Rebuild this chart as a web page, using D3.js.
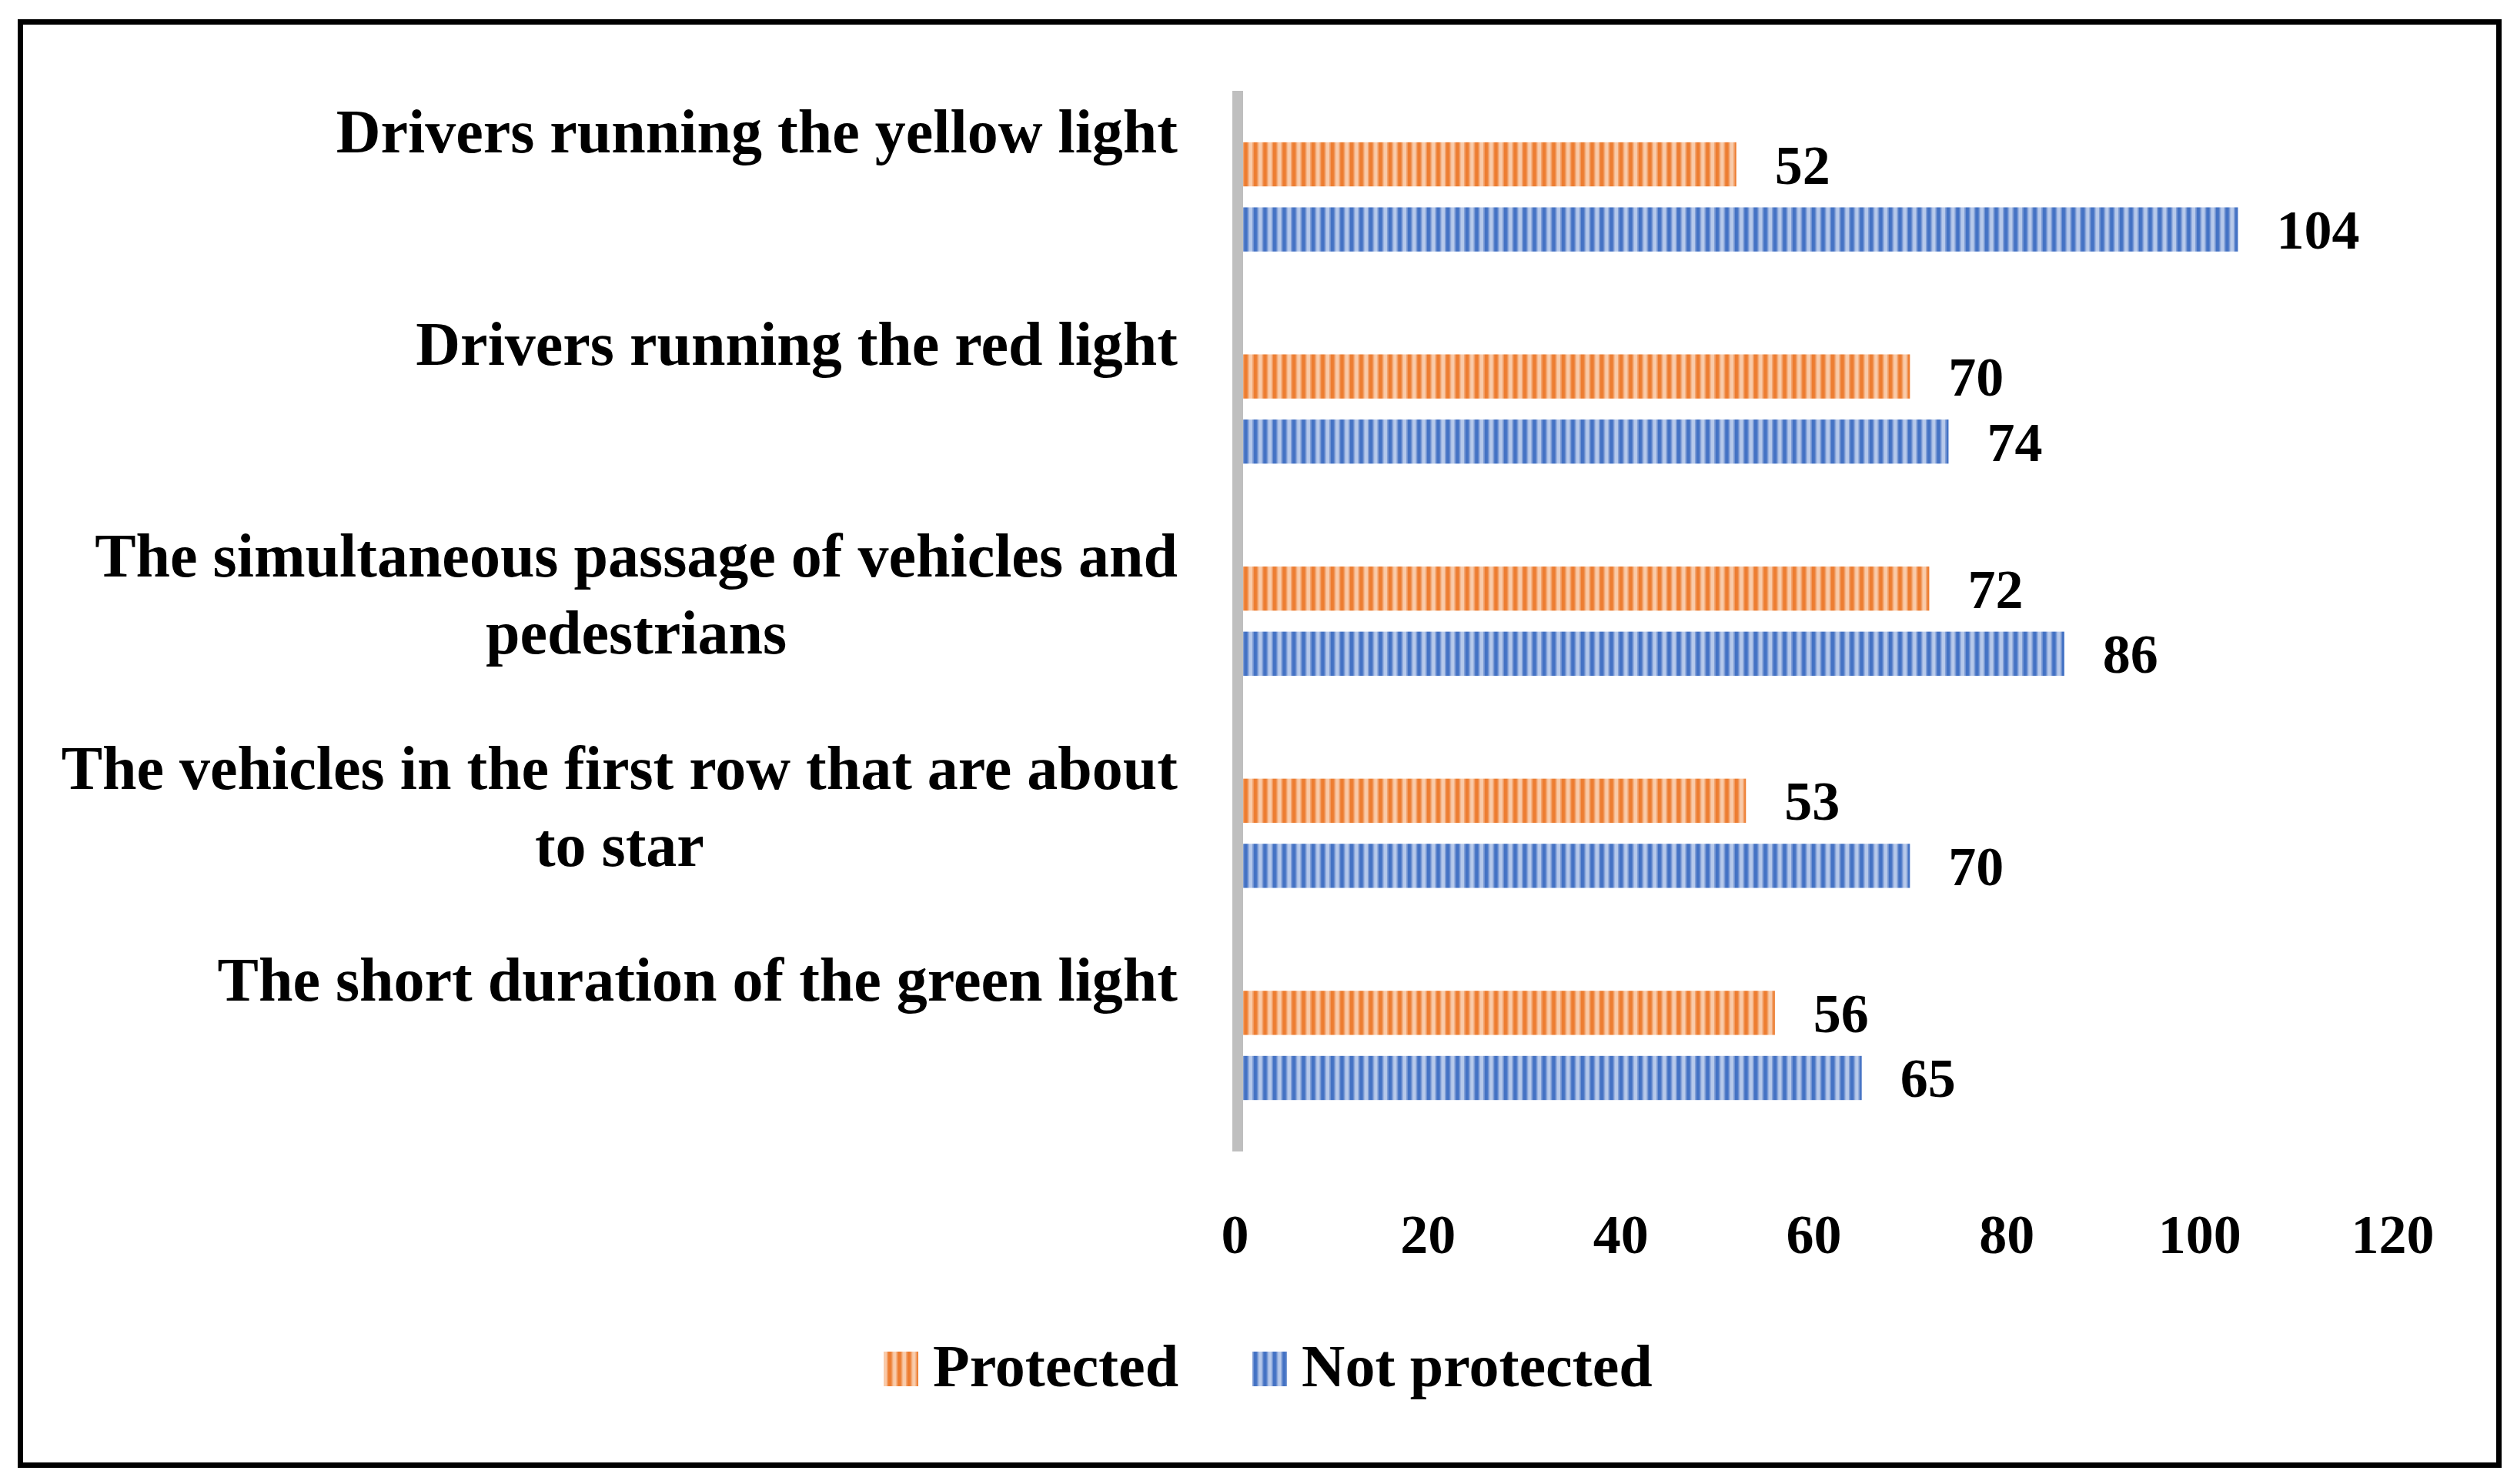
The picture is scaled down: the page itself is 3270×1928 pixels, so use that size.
<!DOCTYPE html>
<html>
<head>
<meta charset="utf-8">
<script src="https://cdn.jsdelivr.net/npm/d3@7"></script>
<style>
  html, body { margin: 0; padding: 0; background: #fff; }
  svg { display: block; }
  text { font-family: "Liberation Serif", "Times New Roman", serif; font-weight: bold; fill: #000; }
</style>
</head>
<body>
<svg id="chart" width="3270" height="1928"></svg>
<script>
// ---- data ----
const categories = [
  "Drivers running the yellow light",
  "Drivers running the red light",
  "The simultaneous passage of vehicles and\npedestrians",
  "The vehicles in the first row that are about\nto star",
  "The short duration of the green light"
];
const seriesNames = ["Protected", "Not protected"];
const protectedValues = [52, 70, 72, 53, 56];
const notProtectedValues = [104, 74, 86, 70, 65];
const xTicks = [0, 20, 40, 60, 80, 100, 120];

const seriesValues = [protectedValues, notProtectedValues];
const seriesColors = [
  { dark: "#ED7D31", mid: "#F3A46E", light: "#F9CBAA" },
  { dark: "#4472C4", mid: "#7F9DD6", light: "#B7C9EA" }
];

const svg = d3.select("#chart");
svg.append("rect").attr("width", 3270).attr("height", 1928).attr("fill", "#fff");

// patterns (wide vertical stripes)
const defs = svg.append("defs");
seriesColors.forEach((c, i) => {
  const p = defs.append("pattern")
    .attr("id", "pat" + i)
    .attr("patternUnits", "userSpaceOnUse")
    .attr("width", 12.5).attr("height", 20);
  p.append("rect").attr("width", 12.5).attr("height", 20).attr("fill", c.light);
  p.append("rect").attr("x", 2).attr("width", 1.5).attr("height", 20).attr("fill", c.mid);
  p.append("rect").attr("x", 3.5).attr("width", 5).attr("height", 20).attr("fill", c.dark);
  p.append("rect").attr("x", 8.5).attr("width", 1.5).attr("height", 20).attr("fill", c.mid);
});

// frame
svg.append("rect")
  .attr("x", 26.5).attr("y", 28.5)
  .attr("width", 3220).attr("height", 1875)
  .attr("fill", "none").attr("stroke", "#000").attr("stroke-width", 7);

// scales
const x = d3.scaleLinear().domain([0, 120]).range([1604, 3108]);
const y0 = d3.scaleBand().domain(d3.range(categories.length)).range([118, 1496]);
const y1 = d3.scaleBand().domain(d3.range(seriesNames.length))
  .range([0, y0.bandwidth()]).paddingInner(0.322).paddingOuter(0.79);

// bars
const groups = svg.append("g").selectAll("g")
  .data(categories.map((c, i) => i))
  .join("g")
  .attr("transform", i => `translate(0,${y0(i)})`);

groups.selectAll("rect")
  .data(i => seriesValues.map((vals, s) => ({ s, v: vals[i] })))
  .join("rect")
  .attr("x", x(0))
  .attr("y", d => y1(d.s))
  .attr("width", d => x(d.v) - x(0))
  .attr("height", y1.bandwidth())
  .attr("fill", d => `url(#pat${d.s})`);

// value labels
groups.selectAll("text.val")
  .data(i => seriesValues.map((vals, s) => ({ s, v: vals[i] })))
  .join("text")
  .attr("class", "val")
  .attr("x", d => x(d.v) + 50)
  .attr("y", d => y1(d.s) + y1.bandwidth() / 2 + 25)
  .attr("font-size", 72)
  .text(d => d.v);

// vertical axis line
svg.append("line")
  .attr("x1", 1608).attr("x2", 1608)
  .attr("y1", y0.range()[0]).attr("y2", y0.range()[1])
  .attr("stroke", "#BFBFBF").attr("stroke-width", 14);

// category labels (block right-aligned, lines centered)
const labelRight = 1530;
categories.forEach((c, i) => {
  const lines = c.split("\n");
  const g = svg.append("g");
  const texts = lines.map((ln, k) => g.append("text")
    .attr("y", y0(i) + 80 + k * 100)
    .attr("font-size", 80)
    .attr("text-anchor", "middle")
    .text(ln));
  const maxW = d3.max(texts, t => t.node().getComputedTextLength());
  texts.forEach(t => t.attr("x", labelRight - maxW / 2));
});

// x axis tick labels
const xAxis = d3.axisBottom(x).tickValues(xTicks).tickSize(0).tickFormat(d3.format("d"));
const ax = svg.append("g").attr("transform", "translate(0,1628)").call(xAxis);
ax.select(".domain").remove();
ax.selectAll("text")
  .attr("y", 0).attr("dy", 0)
  .attr("font-size", 72)
  .style("font-family", '"Liberation Serif", serif')
  .style("font-weight", "bold")
  .attr("fill", "#000");

// legend
const legend = svg.append("g");
let lx = 1148;
seriesNames.forEach((name, s) => {
  legend.append("rect")
    .attr("x", lx).attr("y", 1756)
    .attr("width", 45).attr("height", 45)
    .attr("fill", `url(#pat${s})`);
  const t = legend.append("text")
    .attr("x", lx + 64).attr("y", 1801)
    .attr("font-size", 78)
    .text(name);
  lx = lx + 64 + t.node().getComputedTextLength() + 96;
});
</script>
</body>
</html>
